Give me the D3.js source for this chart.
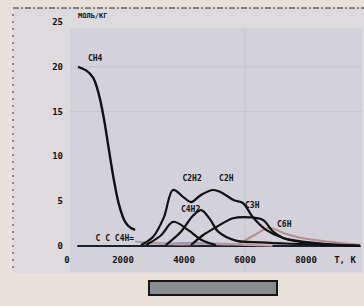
<!DOCTYPE html>
<html>
<head>
<meta charset="utf-8">
<script src="https://cdn.jsdelivr.net/npm/d3@7"></script>
<style>
  body { margin: 0; background: #e6e2d9; }
  svg { display: block; }
  text { font-family: "DejaVu Sans Mono", monospace; font-weight: bold; fill: #111; }
</style>
</head>
<body>
<div id="chart"></div>
<script>
// temperatures, K
var ch4_t = [525, 790, 1020, 1210, 1380, 1540, 1700, 1870, 2070, 2260, 2400];
var ch4_v = [20, 19.6, 18.8, 16.9, 14.1, 10.7, 7.4, 4.6, 2.7, 2.0, 1.8];

var c2h2_t = [2590, 2980, 3340, 3640, 4000, 4230, 4560, 4950, 5210, 5640, 5930, 6260, 6690, 7250, 8330, 9770];
var c2h2_v = [0.1, 1.0, 3.2, 6.25, 5.4, 4.9, 5.7, 6.25, 6.0, 5.1, 4.8, 3.2, 1.8, 0.9, 0.33, 0];

var c4h2_t = [2750, 3250, 3640, 4130, 4560, 5050];
var c4h2_v = [0.1, 1.2, 2.7, 1.8, 0.7, 0.1];

var c4h_t = [3400, 3900, 4300, 4560, 4850, 5120, 5700, 6500, 7500, 9770];
var c4h_v = [0.1, 1.6, 3.4, 4.0, 3.0, 1.6, 0.6, 0.4, 0.25, 0.05];

var c3h_t = [4230, 4620, 5050, 5610, 6160, 6590, 6920, 7250, 7840, 8820];
var c3h_v = [0.1, 1.2, 2.1, 3.1, 3.2, 2.9, 1.6, 0.9, 0.45, 0.1];

var c6h_t = [5800, 6300, 6800, 7300, 8000, 9000, 9800];
var c6h_v = [0.2, 1.2, 2.0, 1.4, 0.8, 0.4, 0.1];

var low_t = [2400, 2900, 3500, 4200, 5000, 5800, 6500];
var low_v = [0.5, 0.35, 0.3, 0.35, 0.3, 0.2, 0.05];

var xticks = [0, 2000, 4000, 6000, 8000];
var yticks = [0, 5, 10, 15, 20, 25];

var labels = [
  {text: 'CH4', t: 850, v: 20.6},
  {text: 'C2H2', t: 3950, v: 7.2},
  {text: 'C2H', t: 5150, v: 7.2},
  {text: 'C4H2', t: 3900, v: 3.8},
  {text: 'C3H', t: 6000, v: 4.2},
  {text: 'C C C4H=', t: 1100, v: 0.6},
  {text: 'C6H', t: 7050, v: 2.1}
];

var W = 364, H = 306;
var x = d3.scaleLinear().domain([0, 10000]).range([62, 367]);
var y = d3.scaleLinear().domain([0, 25]).range([246, 22]);

var svg = d3.select('#chart').append('svg').attr('width', W).attr('height', H);

// scanned page frame and plot field
svg.append('rect').attr('x', 13).attr('y', 8).attr('width', 351).attr('height', 265).attr('fill', '#dedbde');
svg.append('rect').attr('x', 70).attr('y', 28).attr('width', 292).attr('height', 244).attr('fill', '#d3d1da');
svg.append('line').attr('x1', 13).attr('x2', 364).attr('y1', 8).attr('y2', 8)
  .attr('stroke', '#222').attr('stroke-width', 1.2).attr('stroke-dasharray', '6,2,2,2');
svg.append('line').attr('x1', 13).attr('x2', 13).attr('y1', 14).attr('y2', 273)
  .attr('stroke', '#333').attr('stroke-width', 1).attr('stroke-dasharray', '2,5');

// faint grid
svg.selectAll('line.grid').data([15, 20]).enter().append('line')
  .attr('x1', 70).attr('x2', 362).attr('y1', function(d) { return y(d); }).attr('y2', function(d) { return y(d); })
  .attr('stroke', '#c6c4cc').attr('stroke-width', 1);
svg.append('line').attr('x1', x(6000)).attr('x2', x(6000)).attr('y1', 28).attr('y2', 272)
  .attr('stroke', '#c8c6ce').attr('stroke-width', 1);

// axes labels
svg.selectAll('text.yt').data(yticks).enter().append('text')
  .attr('x', 63).attr('y', function(d) { return y(d) + 3; })
  .attr('text-anchor', 'end').attr('font-size', 9).text(function(d) { return d; });
svg.selectAll('text.xt').data(xticks).enter().append('text')
  .attr('x', function(d) { return x(d) + (d === 0 ? 5 : 0); }).attr('y', 263)
  .attr('text-anchor', 'middle').attr('font-size', 9).text(function(d) { return d; });
svg.append('text').attr('x', 345).attr('y', 263).attr('text-anchor', 'middle').attr('font-size', 9).text('T, K');
svg.append('text').attr('x', 78).attr('y', 18).attr('font-size', 7).text('МОЛЬ/КГ');

var line = d3.line().x(function(d) { return x(d[0]); }).y(function(d) { return y(d[1]); }).curve(d3.curveCatmullRom);
var zip = function(a, b) { return a.map(function(t, i) { return [t, b[i]]; }); };

// baseline
svg.append('path').attr('d', line([[500, 0], [9800, 0]])).attr('stroke', '#1a2230').attr('stroke-width', 2.2).attr('fill', 'none');

var series = [
  {t: low_t, v: low_v, c: '#7f95b8', w: 1.6},
  {t: low_t.map(function(d) { return d + 400; }), v: low_v.map(function(d) { return d * 0.6; }), c: '#c79a9a', w: 2},
  {t: c6h_t, v: c6h_v, c: '#b58f8f', w: 2},
  {t: c4h2_t, v: c4h2_v, c: '#111', w: 2.2},
  {t: c4h_t, v: c4h_v, c: '#111', w: 2.2},
  {t: c3h_t, v: c3h_v, c: '#111', w: 2.2},
  {t: c2h2_t, v: c2h2_v, c: '#111', w: 2.2},
  {t: ch4_t, v: ch4_v, c: '#111', w: 2.4}
];

svg.selectAll('path.curve').data(series).enter().append('path')
  .attr('class', 'curve')
  .attr('d', function(s) { return line(zip(s.t, s.v)); })
  .attr('stroke', function(s) { return s.c; })
  .attr('stroke-width', function(s) { return s.w; })
  .attr('fill', 'none');

svg.selectAll('text.lab').data(labels).enter().append('text')
  .attr('x', function(d) { return x(d.t); }).attr('y', function(d) { return y(d.v); })
  .attr('font-size', 8).text(function(d) { return d.text; });

// gray bar under the chart
svg.append('rect').attr('x', 149).attr('y', 281).attr('width', 128).attr('height', 14)
  .attr('fill', '#8b8a8e').attr('stroke', '#151515').attr('stroke-width', 2);
</script>
</body>
</html>
